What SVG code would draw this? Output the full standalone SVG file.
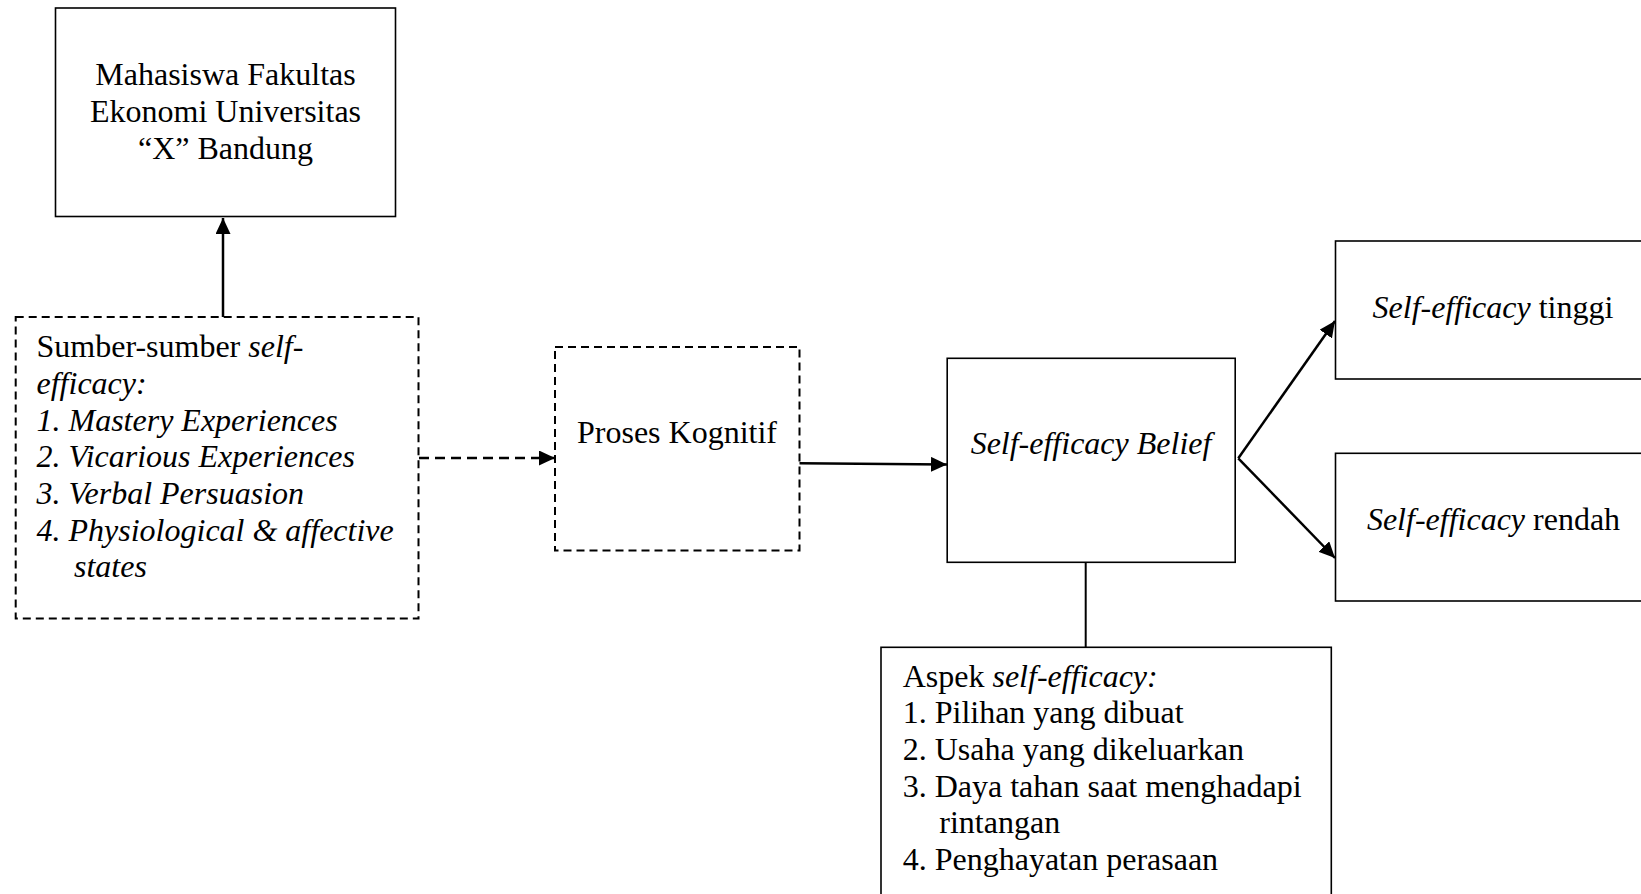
<svg xmlns="http://www.w3.org/2000/svg" width="1641" height="894" viewBox="0 0 1641 894">
<style>
text{font-family:"Liberation Serif","Times New Roman",serif;font-size:32px;fill:#000}
.i{font-style:italic}
.box{fill:#fff;stroke:#000;stroke-width:1.6}
.dbox{fill:#fff;stroke:#000;stroke-width:2;stroke-dasharray:8 5}
.ln{fill:none;stroke:#000;stroke-width:2.5}
.dln{fill:none;stroke:#000;stroke-width:2.5;stroke-dasharray:10 6}
</style>
<defs>
<marker id="ah" markerUnits="userSpaceOnUse" markerWidth="17" markerHeight="15" refX="16" refY="7.5" orient="auto">
<path d="M0,0 L16,7.5 L0,15 Z" fill="#000"/>
</marker>
</defs>
<rect width="1641" height="894" fill="#fff"/>
<g id="n-mahasiswa">
<rect class="box" x="55.5" y="8" width="340" height="208.5"/>
<text x="225.5" y="85" text-anchor="middle">Mahasiswa Fakultas</text>
<text x="225.5" y="122" text-anchor="middle">Ekonomi Universitas</text>
<text x="225.5" y="159" text-anchor="middle">“X” Bandung</text>
</g>
<g id="n-sumber">
<rect class="dbox" x="15.7" y="317" width="402.8" height="301.5"/>
<text x="36.5" y="357"><tspan>Sumber-sumber </tspan><tspan class="i">self-</tspan></text>
<text class="i" x="36.5" y="394">efficacy:</text>
<text class="i" x="36.5" y="430.5">1. Mastery Experiences</text>
<text class="i" x="36.5" y="467.2">2. Vicarious Experiences</text>
<text class="i" x="36.5" y="503.9">3. Verbal Persuasion</text>
<text class="i" x="36.5" y="540.6">4. Physiological &amp; affective</text>
<text class="i" x="74" y="577.3">states</text>
</g>
<g id="n-proses">
<rect class="dbox" x="555" y="347" width="244.5" height="203.5"/>
<text x="677" y="442.5" text-anchor="middle">Proses Kognitif</text>
</g>
<g id="n-belief">
<rect class="box" x="947.2" y="358.3" width="288" height="204"/>
<text class="i" x="1091" y="454" text-anchor="middle">Self-efficacy Belief</text>
</g>
<g id="n-tinggi">
<rect class="box" x="1335.5" y="241" width="320" height="138"/>
<text x="1493" y="318" text-anchor="middle"><tspan class="i">Self-efficacy</tspan> tinggi</text>
</g>
<g id="n-rendah">
<rect class="box" x="1335.5" y="453.3" width="320" height="147.7"/>
<text x="1493.5" y="529.5" text-anchor="middle"><tspan class="i">Self-efficacy</tspan> rendah</text>
</g>
<g id="n-aspek">
<rect class="box" x="881" y="647.3" width="450.3" height="260"/>
<text x="902.7" y="686.7"><tspan>Aspek </tspan><tspan class="i">self-efficacy:</tspan></text>
<text x="902.7" y="723.3">1. Pilihan yang dibuat</text>
<text x="902.7" y="760">2. Usaha yang dikeluarkan</text>
<text x="902.7" y="796.7">3. Daya tahan saat menghadapi</text>
<text x="939.3" y="833.3">rintangan</text>
<text x="902.7" y="870">4. Penghayatan perasaan</text>
</g>
<g id="connectors">
<line class="ln" x1="223" y1="317" x2="223" y2="218" marker-end="url(#ah)"/>
<line class="dln" x1="419" y1="458" x2="555" y2="458" marker-end="url(#ah)"/>
<line class="ln" x1="799.5" y1="463.3" x2="947" y2="464.5" marker-end="url(#ah)"/>
<line class="ln" x1="1238.3" y1="458.3" x2="1335" y2="321" marker-end="url(#ah)"/>
<line class="ln" x1="1238.3" y1="458.3" x2="1335" y2="558" marker-end="url(#ah)"/>
<line class="ln" x1="1085.7" y1="562.3" x2="1085.7" y2="647.3" style="stroke-width:2"/>
</g>
</svg>
